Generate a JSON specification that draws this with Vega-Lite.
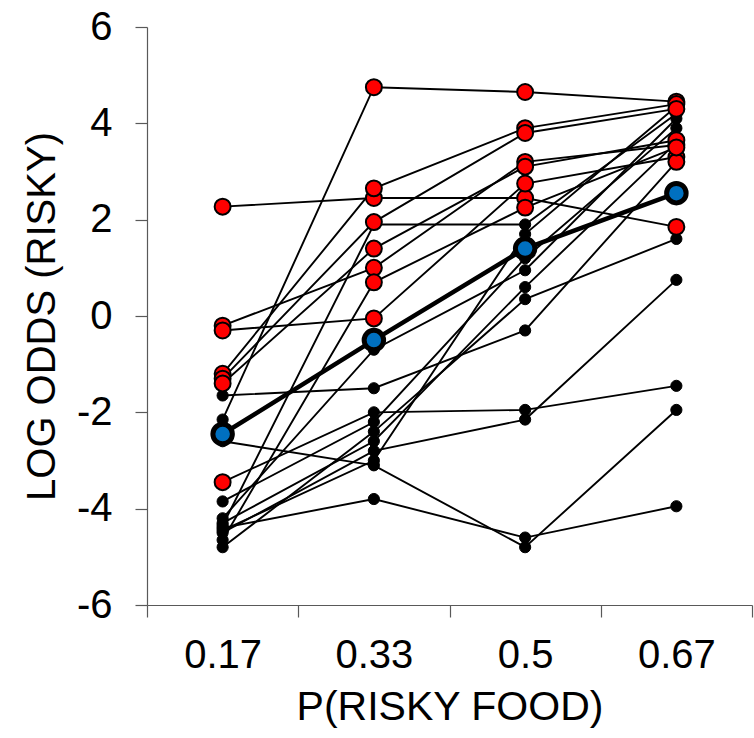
{
  "$schema": "https://vega.github.io/schema/vega-lite/v6.json",
  "width": 605,
  "height": 578,
  "autosize": "none",
  "padding": {"left": 147, "top": 27, "right": 2, "bottom": 133},
  "background": "white",
  "config": {
    "view": {"stroke": null},
    "axis": {
      "grid": false,
      "labelFont": "Liberation Sans",
      "labelFontSize": 40,
      "labelColor": "black",
      "titleFont": "Liberation Sans",
      "titleFontSize": 40,
      "titleFontWeight": "normal",
      "titleColor": "black",
      "domainColor": "#595959",
      "tickColor": "#595959",
      "domainWidth": 1.2,
      "tickWidth": 1.2,
      "tickSize": 12
    }
  },
  "datasets": {
    "subjects": [
      {"subject": 1, "p": 0.16667, "logodds": 2.27, "sig": true},
      {"subject": 1, "p": 0.33333, "logodds": 2.45, "sig": true},
      {"subject": 1, "p": 0.5, "logodds": 2.45, "sig": true},
      {"subject": 1, "p": 0.66667, "logodds": 1.85, "sig": true},
      {"subject": 2, "p": 0.16667, "logodds": -2.15, "sig": false},
      {"subject": 2, "p": 0.33333, "logodds": 4.75, "sig": true},
      {"subject": 2, "p": 0.5, "logodds": 4.65, "sig": true},
      {"subject": 2, "p": 0.66667, "logodds": 4.45, "sig": true},
      {"subject": 3, "p": 0.16667, "logodds": -0.2, "sig": true},
      {"subject": 3, "p": 0.33333, "logodds": 1.0, "sig": true},
      {"subject": 3, "p": 0.5, "logodds": 3.2, "sig": true},
      {"subject": 3, "p": 0.66667, "logodds": 3.55, "sig": true},
      {"subject": 4, "p": 0.16667, "logodds": -0.3, "sig": true},
      {"subject": 4, "p": 0.33333, "logodds": -0.05, "sig": true},
      {"subject": 4, "p": 0.5, "logodds": 2.75, "sig": true},
      {"subject": 4, "p": 0.66667, "logodds": 3.3, "sig": true},
      {"subject": 5, "p": 0.16667, "logodds": -1.2, "sig": true},
      {"subject": 5, "p": 0.33333, "logodds": 2.65, "sig": true},
      {"subject": 5, "p": 0.5, "logodds": 3.9, "sig": true},
      {"subject": 5, "p": 0.66667, "logodds": 4.4, "sig": true},
      {"subject": 6, "p": 0.16667, "logodds": -1.3, "sig": true},
      {"subject": 6, "p": 0.33333, "logodds": 1.95, "sig": true},
      {"subject": 6, "p": 0.5, "logodds": 3.8, "sig": true},
      {"subject": 6, "p": 0.66667, "logodds": 4.3, "sig": true},
      {"subject": 7, "p": 0.16667, "logodds": -1.4, "sig": true},
      {"subject": 7, "p": 0.33333, "logodds": 1.4, "sig": true},
      {"subject": 7, "p": 0.5, "logodds": 3.1, "sig": true},
      {"subject": 7, "p": 0.66667, "logodds": 3.65, "sig": true},
      {"subject": 8, "p": 0.16667, "logodds": -3.45, "sig": true},
      {"subject": 8, "p": 0.33333, "logodds": -2.0, "sig": false},
      {"subject": 8, "p": 0.5, "logodds": -1.95, "sig": false},
      {"subject": 8, "p": 0.66667, "logodds": -1.45, "sig": false},
      {"subject": 9, "p": 0.16667, "logodds": -2.6, "sig": false},
      {"subject": 9, "p": 0.33333, "logodds": -3.1, "sig": false},
      {"subject": 9, "p": 0.5, "logodds": -4.8, "sig": false},
      {"subject": 9, "p": 0.66667, "logodds": -1.95, "sig": false},
      {"subject": 10, "p": 0.16667, "logodds": -4.4, "sig": false},
      {"subject": 10, "p": 0.33333, "logodds": -3.8, "sig": false},
      {"subject": 10, "p": 0.5, "logodds": -4.6, "sig": false},
      {"subject": 10, "p": 0.66667, "logodds": -3.95, "sig": false},
      {"subject": 11, "p": 0.16667, "logodds": -1.65, "sig": false},
      {"subject": 11, "p": 0.33333, "logodds": -1.5, "sig": false},
      {"subject": 11, "p": 0.5, "logodds": -0.3, "sig": false},
      {"subject": 11, "p": 0.66667, "logodds": 3.2, "sig": true},
      {"subject": 12, "p": 0.16667, "logodds": -4.5, "sig": false},
      {"subject": 12, "p": 0.33333, "logodds": -2.8, "sig": false},
      {"subject": 12, "p": 0.5, "logodds": -2.15, "sig": false},
      {"subject": 12, "p": 0.66667, "logodds": 0.75, "sig": false},
      {"subject": 13, "p": 0.16667, "logodds": -4.8, "sig": false},
      {"subject": 13, "p": 0.33333, "logodds": -2.4, "sig": false},
      {"subject": 13, "p": 0.5, "logodds": 0.35, "sig": false},
      {"subject": 13, "p": 0.66667, "logodds": 1.6, "sig": false},
      {"subject": 14, "p": 0.16667, "logodds": -4.65, "sig": false},
      {"subject": 14, "p": 0.33333, "logodds": 0.7, "sig": true},
      {"subject": 14, "p": 0.5, "logodds": 2.25, "sig": true},
      {"subject": 14, "p": 0.66667, "logodds": 3.5, "sig": true},
      {"subject": 15, "p": 0.16667, "logodds": -4.2, "sig": false},
      {"subject": 15, "p": 0.33333, "logodds": -0.7, "sig": false},
      {"subject": 15, "p": 0.5, "logodds": 0.95, "sig": false},
      {"subject": 15, "p": 0.66667, "logodds": 4.1, "sig": false},
      {"subject": 16, "p": 0.16667, "logodds": -3.85, "sig": false},
      {"subject": 16, "p": 0.33333, "logodds": -2.2, "sig": false},
      {"subject": 16, "p": 0.5, "logodds": 1.2, "sig": false},
      {"subject": 16, "p": 0.66667, "logodds": 3.9, "sig": false},
      {"subject": 17, "p": 0.16667, "logodds": -4.35, "sig": false},
      {"subject": 17, "p": 0.33333, "logodds": 1.9, "sig": false},
      {"subject": 17, "p": 0.5, "logodds": 1.9, "sig": false},
      {"subject": 17, "p": 0.66667, "logodds": 4.2, "sig": false},
      {"subject": 18, "p": 0.16667, "logodds": -4.45, "sig": false},
      {"subject": 18, "p": 0.33333, "logodds": -3.0, "sig": false},
      {"subject": 18, "p": 0.5, "logodds": 1.7, "sig": false},
      {"subject": 18, "p": 0.66667, "logodds": 4.35, "sig": false},
      {"subject": 19, "p": 0.16667, "logodds": -4.3, "sig": false},
      {"subject": 19, "p": 0.33333, "logodds": -2.6, "sig": false},
      {"subject": 19, "p": 0.5, "logodds": 0.6, "sig": false},
      {"subject": 19, "p": 0.66667, "logodds": 3.6, "sig": false}
    ],
    "mean": [
      {"p": 0.16667, "logodds": -2.45},
      {"p": 0.33333, "logodds": -0.5},
      {"p": 0.5, "logodds": 1.4},
      {"p": 0.66667, "logodds": 2.55}
    ]
  },
  "encoding": {
    "x": {
      "field": "p",
      "type": "quantitative",
      "scale": {"domain": [0.083333, 0.75], "nice": false, "zero": false},
      "axis": {
        "values": [0.083333, 0.25, 0.416667, 0.583333, 0.75],
        "labelExpr": "datum.value < 0.2 ? '0.17' : datum.value < 0.3 ? '0.33' : datum.value < 0.5 ? '0.5' : datum.value < 0.7 ? '0.67' : ''",
        "labelOffset": 75.6,
        "labelFlush": false,
        "labelOverlap": false,
        "labelBound": false,
        "labelPadding": 18,
        "title": "P(RISKY FOOD)",
        "titleFontSize": 41,
        "titlePadding": 12
      }
    },
    "y": {
      "field": "logodds",
      "type": "quantitative",
      "scale": {"domain": [-6, 6], "nice": false, "zero": false},
      "axis": {
        "values": [-6, -4, -2, 0, 2, 4, 6],
        "labelExpr": "datum.value < 0 ? '-' + abs(datum.value) : '' + datum.value",
        "labelPadding": 23,
        "labelOverlap": false,
        "labelBound": false,
        "labelFlush": false,
        "title": "LOG ODDS (RISKY)",
        "titlePadding": 14
      }
    }
  },
  "layer": [
    {
      "data": {"name": "subjects"},
      "mark": {"type": "line", "color": "black", "strokeWidth": 1.9},
      "encoding": {"detail": {"field": "subject", "type": "nominal"}}
    },
    {
      "data": {"name": "subjects"},
      "transform": [{"filter": "!datum.sig"}],
      "mark": {"type": "point", "shape": "circle", "filled": true, "fill": "black", "stroke": "black", "strokeWidth": 1, "size": 125, "opacity": 1}
    },
    {
      "data": {"name": "subjects"},
      "transform": [{"filter": "datum.sig"}],
      "mark": {"type": "point", "shape": "circle", "filled": true, "fill": "#FF0000", "stroke": "black", "strokeWidth": 2, "size": 254, "opacity": 1}
    },
    {
      "data": {"name": "mean"},
      "mark": {"type": "line", "color": "black", "strokeWidth": 4.5}
    },
    {
      "data": {"name": "mean"},
      "mark": {"type": "point", "shape": "circle", "filled": true, "fill": "#0070C0", "stroke": "black", "strokeWidth": 5, "size": 380, "opacity": 1}
    }
  ]
}
